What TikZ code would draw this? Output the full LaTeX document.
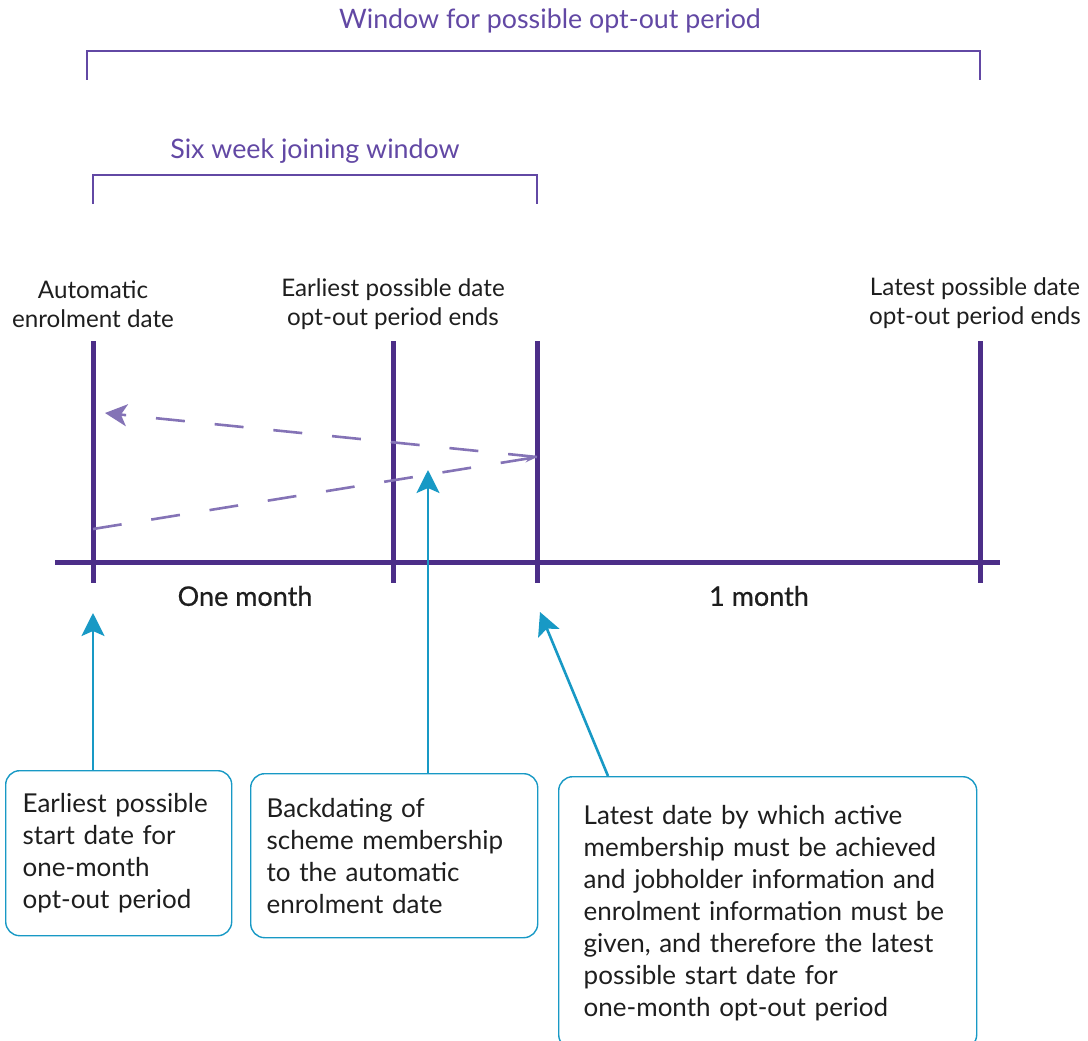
\documentclass[tikz,border=0pt]{standalone}
\usepackage{fontspec}
\setmainfont{Lato}
\newfontfamily\spanfont[FakeBold=0.6]{Lato}
\usetikzlibrary{positioning,arrows.meta}
\definecolor{axispurple}{RGB}{76,46,136}
\definecolor{dashpurple}{RGB}{132,115,182}
\definecolor{brackpurple}{RGB}{98,72,164}
\definecolor{callblue}{RGB}{24,153,197}
\definecolor{inktext}{RGB}{30,30,30}
\begin{document}
\begin{tikzpicture}[
        x=1pt, y=-1pt,
        tick/.style={draw=axispurple, line width=5pt},
        bracket/.style={draw=brackpurple, line width=1.4pt},
        brlabel/.style={text=brackpurple, font=\fontsize{26.8}{30}\selectfont},
        datelabel/.style={align=center, text=inktext, inner sep=0pt, font=\fontsize{24.2}{29}\selectfont},
        spanlabel/.style={text=inktext, font=\spanfont\fontsize{27}{30}\selectfont},
        dashline/.style={draw=dashpurple, line width=2.6pt, dash pattern=on 29pt off 30pt},
        callout/.style={draw=callblue, line width=1.4pt, rounded corners=14pt, anchor=north west,
            align=left, text=inktext, inner ysep=6pt, font=\fontsize{26}{32}\selectfont},
        pointer/.style={draw=callblue, line width=2.6pt, -{Stealth[length=23pt, width=23pt, inset=5pt]}}
    ]
    \useasboundingbox (0,0) rectangle (1088,1041);
    \clip (0,0) rectangle (1088,1041);

    % Axis and dates
    \coordinate (ae) at (93,562);
    \coordinate (early) at (393,562);
    \coordinate (joinend) at (537,562);
    \coordinate (late) at (980,562);
    \draw [tick] (55,562) -- (1000,562);
    \foreach \d in {ae,early,joinend,late}
        \draw [tick] ([yshift=221pt]\d) coordinate (\d top) -- ([yshift=-21pt]\d) coordinate (\d foot);

    \node [datelabel, above=13pt of aetop] (aelab) {Automatic\\enrolment date};
    \node [datelabel, above=11pt of earlytop] (earlylab) {Earliest possible date\\opt-out period ends};
    \node [datelabel, above=12pt of latetop, xshift=-5pt] (latelab) {Latest possible date\\opt-out period ends};

    \node [spanlabel] (onemonth) at (245,596) {One month};
    \node [spanlabel] (optmonth) at (759,596) {1 month};

    % Windows
    \draw [bracket] (87,80) coordinate (winL) -- ++(0,-29) -| (980,80) coordinate (winR);
    \node [brlabel] (wintitle) at (550,21) {Window for possible opt-out period};
    \draw [bracket] (93,204) coordinate (sixL) -- ++(0,-29) -| (537,204) coordinate (sixR);
    \node [brlabel] (sixtitle) at (315,151) {Six week joining window};

    % Backdating
    \coordinate (backfrom) at (537,457);
    \coordinate (backto) at (105,413);
    \coordinate (backstart) at (93,529);
    \draw [dashline, -{Stealth[length=22pt, width=22pt, inset=6pt]}] (backfrom) -- (backto);
    \draw [dashline, -{Stealth[length=12pt, width=7pt]}] (backstart) -- (backfrom);

    % Callouts
    \node [callout, text width=192pt, inner xsep=17pt, minimum height=165pt] (box1) at (5,770)
        {Earliest possible\\start date for\\one-month\\opt-out period};
    \node [callout, text width=255pt, inner xsep=16pt, minimum height=164pt] (box2) at (250,773)
        {Backdating of\\scheme membership\\to the automatic\\enrolment date};
    \node [callout, text width=368pt, inner xsep=25pt, minimum height=272pt] (box3) at (558,776)
        {Latest date by which active\\membership must be achieved\\and jobholder information and\\enrolment information must be\\given, and therefore the latest\\possible start date for\\one-month opt-out period};

    \draw [pointer] (box1.north -| ae) -- ([yshift=-30pt]aefoot);
    \draw [pointer] (box2.north -| 428,0) -- (428,470) coordinate (backpoint);
    \draw [pointer] ([xshift=50pt]box3.north west) -- ([xshift=3pt,yshift=-29pt]joinendfoot);
\end{tikzpicture}
\end{document}
